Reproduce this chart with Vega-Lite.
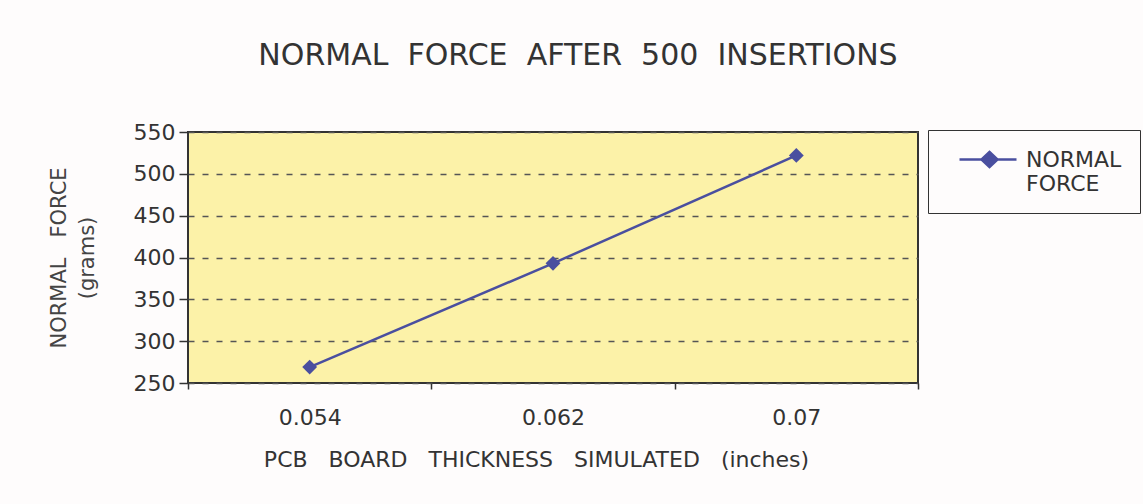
{
  "$schema": "https://vega.github.io/schema/vega-lite/v6.json",
  "width": 730,
  "height": 251,
  "autosize": {"type": "none"},
  "padding": {"left": 188, "top": 132, "right": 225, "bottom": 121},
  "background": "#FEFCFC",
  "title": {
    "text": "NORMAL\u00a0 FORCE\u00a0 AFTER\u00a0 500\u00a0 INSERTIONS",
    "fontSize": 30,
    "font": "DejaVu Sans",
    "fontWeight": "normal",
    "color": "#333333",
    "anchor": "middle",
    "dx": 25,
    "offset": 50
  },
  "data": {
    "values": [
      {"thickness": "0.054", "force": 269, "series": "NORMAL FORCE"},
      {"thickness": "0.062", "force": 393, "series": "NORMAL FORCE"},
      {"thickness": "0.07", "force": 522, "series": "NORMAL FORCE"}
    ]
  },
  "mark": {"type": "line", "strokeWidth": 2.5, "point": {"shape": "diamond", "size": 220, "filled": true, "opacity": 1}},
  "encoding": {
    "x": {
      "field": "thickness",
      "type": "ordinal",
      "sort": null,
      "scale": {"type": "band", "paddingInner": 0, "paddingOuter": 0},
      "axis": {
        "title": "PCB\u00a0\u00a0 BOARD\u00a0\u00a0 THICKNESS\u00a0\u00a0 SIMULATED\u00a0\u00a0 (inches)",
        "titleFont": "DejaVu Sans",
        "titleFontSize": 22,
        "titleFontWeight": "normal",
        "titleColor": "#333333",
        "titlePadding": 21,
        "titleX": 348,
        "labelAngle": 0,
        "labelFont": "DejaVu Sans",
        "labelFontSize": 22,
        "labelColor": "#333333",
        "labelPadding": 18,
        "tickBand": "extent",
        "tickSize": 6,
        "tickColor": "#333333",
        "tickWidth": 1.5,
        "domain": false,
        "grid": false
      }
    },
    "y": {
      "field": "force",
      "type": "quantitative",
      "scale": {"domain": [250, 550], "nice": false, "zero": false},
      "axis": {
        "values": [250, 300, 350, 400, 450, 500, 550],
        "title": ["NORMAL\u00a0\u00a0 FORCE", "(grams)"],
        "titleFont": "DejaVu Sans",
        "titleFontSize": 21,
        "titleFontWeight": "normal",
        "titleColor": "#444444",
        "titlePadding": 36,
        "titleLineHeight": 28,
        "labelFont": "DejaVu Sans",
        "labelFontSize": 22,
        "labelColor": "#333333",
        "labelPadding": 4,
        "tickSize": 9,
        "tickColor": "#333333",
        "tickWidth": 1.5,
        "domain": false,
        "grid": true,
        "gridDash": [6, 8],
        "gridColor": "#555555",
        "gridWidth": 1.5,
        "gridOpacity": 1
      }
    },
    "color": {
      "field": "series",
      "type": "nominal",
      "scale": {"range": ["#4A4F9F"]},
      "legend": {
        "title": null,
        "orient": "none",
        "legendX": 740,
        "legendY": -2,
        "strokeColor": "#333333",
        "padding": 18,
        "symbolType": "M0.2,0H5.9M3.2,-0.75L4,0L3.2,0.75L2.4,0Z",
        "symbolSize": 400,
        "symbolStrokeWidth": 2.5,
        "symbolFillColor": "#4A4F9F",
        "labelOffset": 57,
        "labelFont": "DejaVu Sans",
        "labelFontSize": 22,
        "labelLineHeight": 28,
        "labelColor": "#333333",
        "labelBaseline": "middle",
        "labelExpr": "split(datum.label, ' ')",
        "labelLimit": 200
      }
    }
  },
  "config": {
    "view": {"fill": "#FCF2A8", "stroke": "#333333", "strokeWidth": 2},
    "axis": {"labelFontWeight": "normal"}
  }
}
